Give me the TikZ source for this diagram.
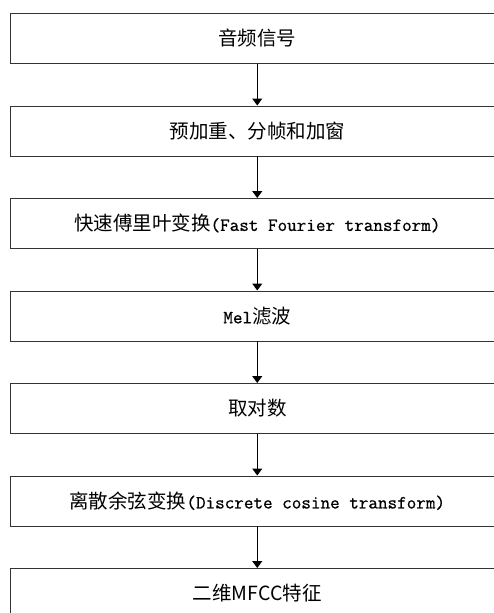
\documentclass[tikz,border=0pt]{standalone}
\usepackage{fontspec}
\setmainfont{Noto Sans CJK SC}
\newfontfamily\enmono[FakeBold=0.8]{Latin Modern Mono}
\usetikzlibrary{arrows.meta}
\newcommand{\en}[1]{{\fontsize{18.6pt}{20pt}\enmono #1}}
\begin{document}
\begin{tikzpicture}[x=1pt,y=1pt,
  stagebox/.style={draw=black!80, line width=0.9pt, minimum width=493.5pt, minimum height=50pt,
    inner sep=0pt, font=\fontsize{19.5pt}{21pt}\selectfont, anchor=north},
  flowarrow/.style={-{Triangle[width=10pt,length=7pt]}, line width=1.1pt, black}]
\useasboundingbox (0,0) rectangle (494,-613);
\clip (0,0) rectangle (494,-613);
\node[stagebox] (s1) at (257.25,-13) {音频信号};
\node[stagebox] (s2) at (257.25,-105.5) {预加重、分帧和加窗};
\node[stagebox] (s3) at (257.25,-198) {快速傅里叶变换\en{(Fast Fourier transform)}};
\node[stagebox] (s4) at (257.25,-290.5) {\en{Mel}滤波};
\node[stagebox] (s5) at (257.25,-383) {取对数};
\node[stagebox] (s6) at (257.25,-475.5) {离散余弦变换\en{(Discrete cosine transform)}};
\node[stagebox] (s7) at (257.25,-568) {二维MFCC特征};
\foreach \a/\b in {s1/s2,s2/s3,s3/s4,s4/s5,s5/s6,s6/s7}
  \draw[flowarrow] (\a.south) -- (\b.north);
\end{tikzpicture}
\end{document}
